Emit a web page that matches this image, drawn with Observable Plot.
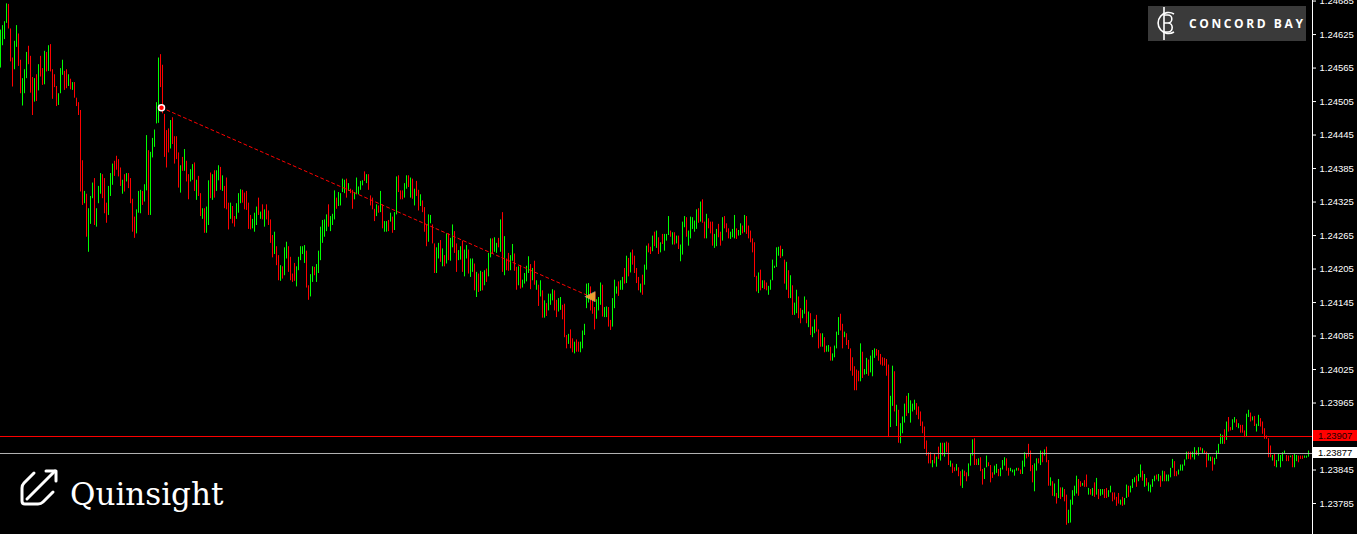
<!DOCTYPE html>
<html>
<head>
<meta charset="utf-8">
<script src="https://cdn.jsdelivr.net/npm/d3@7"></script>
<script src="https://cdn.jsdelivr.net/npm/@observablehq/plot@0.6"></script>
<style>
  html, body { margin: 0; padding: 0; background: #000; }
  #wrap { position: relative; width: 1357px; height: 534px; overflow: hidden; background: #000; }
  #wrap > svg { position: absolute; left: 0; top: 0; }
  .pricebox { position: absolute; left: 1313px; width: 44px; height: 11px; font: 9.5px "Liberation Sans", Arial, sans-serif; line-height: 11px; padding-left: 5px; box-sizing: border-box; }
  #logos { position: absolute; left: 0; top: 0; pointer-events: none; }
</style>
</head>
<body>
<div id="wrap"></div>
<script>
// ---- DATA (prices as points above 1.23000, 1 point = 0.00001) ----
const BASE = 1.23;
const PT = 0.00001;

const hiPts = [
  1633,1641,1648,1680,1679,1635,1583,1613,1641,1626,
  1579,1546,1562,1593,1604,1586,1548,1546,1553,1571,
  1586,1564,1595,1593,1605,1607,1562,1553,1532,1519,
  1564,1579,1559,1562,1553,1545,1539,1539,1511,1503,
  1489,1399,1344,1339,1313,1335,1359,1367,1313,1353,
  1376,1374,1367,1323,1353,1376,1393,1398,1407,1401,
  1386,1364,1374,1376,1376,1367,1330,1298,1311,1344,
  1346,1344,1356,1444,1417,1414,1439,1454,1503,1583,
  1589,1570,1482,1453,1456,1471,1476,1442,1442,1413,
  1390,1405,1419,1398,1374,1383,1392,1395,1364,1371,
  1340,1313,1313,1316,1363,1377,1374,1381,1381,1390,
  1387,1372,1353,1368,1323,1323,1317,1299,1322,1340,
  1347,1346,1341,1344,1323,1301,1294,1305,1316,1332,
  1307,
  1320,1311,1320,1309,1293,1265,1271,1245,1229,1211,
  1209,1243,1253,1245,1226,1196,1215,1209,1226,1245,
  1245,1247,1237,1175,1195,1209,1208,1213,1237,1280,
  1292,1293,1302,1320,1299,1303,1345,1332,1342,1340,
  1366,1364,1366,1358,1348,1346,1342,1368,1352,1362,
  1363,1379,1374,1374,1336,1332,1312,1320,1318,1344,
  1320,1290,1290,1292,1305,1298,1306,1370,1372,1345,
  1345,1358,1372,1372,1368,1366,1348,1362,1346,1338,
  1327,1315,1283,1302,1301,1284,1250,1243,1251,1256,
  1241,1229,1268,1268,1260,1284,1272,1250,1238,1245,
  1255,1239,1247,1239,1223,1223,1214,1199,1196,1201,
  1199,1202,1205,1233,1259,1259,1261,1251,1260,1293,
  1306,1263,1223,1233,1229,1249,1232,1208,1209,1211,
  1185,
  1197,1210,1227,1213,1206,1219,1184,1176,1184,1166,
  1148,1143,1160,1160,1168,1166,1149,1152,1154,1140,
  1142,1086,1088,1096,1080,1074,1078,1074,1074,1094,
  1106,1178,1179,1173,1154,1136,1150,1154,1180,1176,
  1136,1137,1136,1113,1152,1185,1173,1182,1184,1190,
  1206,1228,1224,1234,1239,1228,1206,1190,1178,1194,
  1212,1246,1250,1244,1264,1271,1273,1261,1252,1267,
  1267,1267,1299,1273,1270,1270,1264,1264,1248,1289,
  1299,1297,1273,1298,1297,1291,1311,1313,1325,1329,
  1289,1303,1295,1289,1289,1267,1276,1285,1271,1297,
  1299,1286,1277,1271,1276,1301,1277,1274,1286,1282,
  1301,1299,1282,1273,1259,1252,1192,1198,1203,1184,
  1184,1180,1174,1185,1221,1210,1243,1244,1246,1240,
  1221,
  1217,1202,1193,1175,1144,1167,1155,1134,1131,1155,
  1149,1128,1125,1101,1114,1122,1096,1089,1089,1082,
  1067,1068,1065,1053,1067,1092,1118,1124,1106,1092,
  1089,1077,1062,1046,1030,1024,1022,1071,1056,1025,
  1045,1042,1049,1059,1062,1061,1059,1052,1046,1045,
  1043,1033,977,1031,1021,961,952,928,940,963,
  977,982,969,963,970,964,958,949,931,922,
  897,876,876,862,874,868,886,893,893,893,
  895,893,861,856,849,855,849,842,845,843,
  840,856,874,899,901,864,865,867,846,848,
  870,858,853,840,852,855,846,848,862,867,
  865,848,848,845,845,848,848,845,861,876,
  874,891,879,853,856,865,865,879,877,881,
  886,
  862,831,824,820,803,828,813,813,810,800,
  773,791,808,816,834,828,824,821,826,836,
  812,810,812,822,830,810,810,810,810,812,
  808,816,804,804,796,803,791,796,794,818,
  816,816,828,831,834,837,854,843,837,830,
  822,818,828,834,836,837,834,843,842,836,
  836,848,864,860,842,845,854,854,863,877,
  877,877,877,885,879,885,885,883,879,877,
  873,868,868,866,879,891,909,907,917,931,
  939,921,935,939,935,928,925,925,915,945,
  952,947,940,941,927,943,937,931,919,906,
  901,888,871,873,862,873,871,876,879,871,
  870,870,871,873,871,870,870,870,870,870,
  879
];

const loPts = [
  1565,1605,1616,1645,1635,1576,1531,1562,1602,1568,
  1519,1497,1519,1546,1571,1520,1480,1504,1505,1524,
  1549,1534,1535,1558,1559,1558,1509,1530,1496,1498,
  1519,1552,1525,1528,1532,1526,1525,1511,1496,1480,
  1343,1319,1322,1262,1235,1285,1331,1283,1280,1322,
  1339,1331,1304,1287,1301,1335,1355,1371,1382,1370,
  1353,1339,1343,1361,1349,1322,1271,1260,1268,1305,
  1304,1319,1325,1345,1301,1301,1404,1423,1465,1466,
  1530,1483,1405,1386,1413,1420,1428,1393,1401,1350,
  1341,1380,1380,1361,1329,1361,1364,1344,1328,1335,
  1299,1294,1269,1269,1283,1331,1328,1332,1344,1363,
  1346,1344,1313,1311,1275,1294,1286,1280,1294,1305,
  1322,1323,1311,1310,1276,1275,1277,1271,1283,1301,
  1294,
  1293,1280,1293,1283,1251,1225,1231,1211,1184,1183,
  1187,1193,1223,1199,1184,1181,1183,1173,1202,1220,
  1231,1215,1171,1149,1155,1181,1193,1181,1197,1220,
  1251,1262,1272,1280,1272,1283,1293,1312,1317,1318,
  1342,1340,1332,1344,1340,1312,1329,1338,1338,1346,
  1354,1362,1358,1346,1318,1311,1290,1299,1305,1306,
  1277,1271,1271,1272,1289,1269,1274,1302,1342,1329,
  1329,1332,1348,1351,1332,1330,1318,1335,1309,1317,
  1306,1271,1245,1253,1286,1250,1197,1197,1223,1217,
  1209,1209,1214,1220,1219,1243,1233,1199,1220,1221,
  1199,1191,1223,1196,1190,1199,1166,1154,1163,1165,
  1166,1175,1181,1191,1225,1232,1235,1233,1243,1235,
  1199,1193,1202,1201,1202,1219,1201,1167,1175,1169,
  1171,
  1178,1182,1197,1168,1184,1176,1167,1138,1155,1117,
  1117,1120,1130,1140,1148,1130,1118,1128,1131,1114,
  1082,1062,1070,1062,1055,1053,1056,1056,1055,1062,
  1086,1134,1144,1130,1124,1096,1115,1130,1140,1119,
  1118,1118,1101,1095,1101,1134,1160,1156,1167,1167,
  1178,1179,1191,1198,1212,1197,1179,1166,1162,1158,
  1176,1203,1234,1231,1236,1245,1242,1231,1234,1249,
  1237,1255,1265,1262,1248,1248,1250,1240,1218,1230,
  1279,1262,1246,1259,1276,1271,1276,1287,1289,1287,
  1259,1259,1277,1268,1246,1242,1245,1261,1246,1255,
  1277,1270,1259,1258,1261,1259,1258,1264,1265,1268,
  1270,1267,1259,1252,1234,1190,1164,1161,1166,1170,
  1168,1166,1158,1167,1184,1206,1208,1228,1224,1227,
  1178,
  1167,1152,1152,1122,1122,1125,1116,1107,1116,1124,
  1107,1100,1086,1082,1089,1092,1062,1065,1065,1055,
  1056,1056,1040,1040,1046,1062,1086,1094,1062,1082,
  1068,1061,1022,1013,987,987,1003,1003,1009,1015,
  1016,1013,1019,1012,1045,1049,1040,1033,1031,1031,
  1013,903,921,959,949,923,893,892,910,929,
  941,946,929,949,952,943,935,923,910,882,
  870,856,856,849,856,850,864,861,870,868,
  876,853,850,839,842,843,833,816,812,833,
  824,833,852,870,853,853,853,842,818,828,
  849,851,822,830,836,839,833,833,845,852,
  843,834,842,840,834,843,843,837,837,850,
  865,868,842,822,806,843,856,853,858,870,
  858,
  816,816,798,797,784,794,792,796,788,746,
  749,750,782,798,802,798,814,816,814,814,
  800,800,798,796,800,792,798,800,794,794,
  796,804,788,791,780,784,782,780,782,794,
  796,804,812,822,814,824,831,825,814,816,
  806,804,814,824,827,824,814,824,824,824,
  824,831,848,833,833,836,843,843,852,863,
  864,863,867,863,871,870,879,873,874,849,
  861,860,843,854,864,873,891,891,891,898,
  913,915,916,929,921,919,911,911,903,904,
  939,931,933,923,913,923,922,909,900,900,
  867,867,861,851,849,860,849,860,873,860,
  860,867,849,849,860,858,864,864,866,866,
  868
];

// bar direction: G = up bar (green), R = down bar (red)
const dirGroups = [
  "GGGGRRRGGR","RGGGRRRGRG","RRGRGRRRRG","GGRRGRGRRR","RRGRGGGRGG",
  "GRRRGGGRRR","RGRGRRRRGG","GRGGRGGGGG","RRRRRGRRRR","GRGRRGGRGR",
  "RGRGGRGRGG","RGRRRGRRGG","GRRRRRGGGR","G",
  "RGRRRRGRRG","RGGRRRRGGG","GGRRGGRGGG","GGGRGGGRGG","GGRGRRGGGG",
  "GRGRRRRGRG","RGGRGRGGRR","RGGRGRGRRG","RRRGGRRGGR","GRGRGGRRGG",
  "RGGRGGRGRG","RGRGGRGGRG","RGRRGGRRGR","G",
  "GGGRGRGRGR","GRGGGRRGGR","RRGRRGRRGG","GGGRRRGGGR","GGRRGGGRGG",
  "RGRGRRRRGR","GGRRGRGRGR","GGGRGRGRGG","GRGGGGGRGR","RGRRRGGRRG",
  "RRRGGGRGGR","GRRRRRRGRG","RRGGGGGGRG","R",
  "GRGRGGRRGG","RGRGGRRRGR","GGRGGGGRRG","RRRRRRRGRG","GRGGGRRRRR",
  "RRGGRGRGGG","RGGGGRRRRR","RRRGRGRGRG","RRGRRGRRGR","RGGGRRGRRG",
  "GRRRGGRGGG","RRGGGGRRGG","RRRRGGRGRG","R",
  "RGRGRGRGRR","GGGGGRRGRR","GRGRGRGGRR","GGRRRRGRGG","RGGGRGGRGR",
  "GGGGRGRGRG","GGGRRGGGGG","RRGGRGRGRR","GGRGGGGGRG","RRGGRGRRRG",
  "GRGRGGRRRR","RRGRGGGGGR","RGRGGRRRGG","G"
];
const dirs = dirGroups.join("");

// trend line (start / end) in bar index and price points
const trendIdx = [80.5, 294];
const trendPts = [1494, 1157];

// horizontal levels
const levelRed = 1.23907;
const levelGray = 1.23877;

// axis tick labels
const tickValues = [1.24685,1.24625,1.24565,1.24505,1.24445,1.24385,1.24325,1.24265,
                    1.24205,1.24145,1.24085,1.24025,1.23965,1.23845,1.23785];

// ---- BUILD ----
const toPrice = p => +(BASE + p * PT).toFixed(5);
const bars = hiPts.map((h, i) => ({i, hi: toPrice(h), lo: toPrice(loPts[i]), dir: dirs[i] === "R" ? "down" : "up"}));
const trend = trendIdx.map((t, k) => ({i: t, p: toPrice(trendPts[k])}));

const yOpts = {domain: [1.237295, 1.24686], range: [534, 0]};
const yScale = Plot.scale({y: yOpts});
// snap a 1px horizontal level line onto a whole device pixel row (like the terminal draws it)
const snapDy = v => { const y = yScale.apply(v); return Math.floor(y) + 1.5 - (y + 0.5); };

const chart = Plot.plot({
  width: 1357,
  height: 534,
  marginLeft: 0,
  marginTop: 0,
  marginBottom: 0,
  marginRight: 45,
  style: {background: "#000", color: "#fff", fontFamily: "'Liberation Sans', Arial, sans-serif", fontSize: "9.5px"},
  x: {domain: [0, bars.length], range: [0, 1310], axis: null},
  y: {...yOpts, axis: "right", ticks: tickValues,
      tickFormat: d3.format(".5f"), tickSize: 3, tickPadding: 4, line: true, label: null},
  color: {type: "ordinal", domain: ["up", "down"], range: ["#00ff00", "#ff0000"]},
  marks: [
    Plot.ruleX(bars, {x: "i", y1: "lo", y2: "hi", stroke: "dir", strokeWidth: 1}),
    Plot.ruleY([levelGray], {stroke: "#b4b4b4", strokeWidth: 1, dy: snapDy(levelGray) + 1}),
    Plot.ruleY([levelRed], {stroke: "#ff0000", strokeWidth: 1, dy: snapDy(levelRed) + 1}),
    Plot.line(trend, {x: "i", y: "p", stroke: "#ff0000", strokeWidth: 1, strokeDasharray: "3,3"}),
    Plot.dot(trend.slice(0, 1), {x: "i", y: "p", r: 3, fill: "#ff0000", stroke: "#ffffff", strokeWidth: 1.5}),
    Plot.text(trend.slice(1), {x: "i", y: "p", text: () => "◀", fill: "#e8a030", stroke: "#ffffff", strokeWidth: 0.4, fontSize: 13, dx: 1})
  ]
});
const wrap = document.getElementById("wrap");
wrap.appendChild(chart);

// price label boxes on the axis for the two horizontal levels
const ys = chart.scale("y");
function priceBox(v, bg, fg) {
  const d = document.createElement("div");
  d.className = "pricebox";
  d.style.top = (Math.floor(ys.apply(v)) + 1 - 5) + "px";
  d.style.background = bg;
  d.style.color = fg;
  d.textContent = d3.format(".5f")(v);
  wrap.appendChild(d);
}
priceBox(levelRed, "#ff0000", "#1a0000");
priceBox(levelGray, "#ffffff", "#000000");

// logos
const ns = "http://www.w3.org/2000/svg";
const logos = document.createElementNS(ns, "svg");
logos.setAttribute("id", "logos");
logos.setAttribute("width", 1357);
logos.setAttribute("height", 534);
logos.innerHTML = `
  <rect x="1148" y="6" width="158" height="35" fill="#3a3a3a"/>
  <path d="M1174 14 A10.5 10.5 0 1 0 1174 32" fill="none" stroke="#fff" stroke-width="1.6"/>
  <line x1="1164" y1="7" x2="1164" y2="40" stroke="#fff" stroke-width="1.6"/>
  <path d="M1164 15 H1168 A3.8 4 0 0 1 1168 23 H1164 M1168 23 A4.2 4.5 0 0 1 1168 32 H1164" fill="none" stroke="#fff" stroke-width="1.6"/>
  <text x="1189" y="28" fill="#fff" font-family="'Open Sans', Lato, sans-serif" font-weight="700" font-size="12" letter-spacing="2.6">CONCORD BAY</text>
  <g fill="none" stroke="#fff" stroke-width="3" stroke-linejoin="round" stroke-linecap="round">
    <path d="M34 473 L24 483 Q22 485 22 488 L22 501 Q22 504 25 504 L38 504 Q41 504 43 502 L53 492"/>
    <path d="M27 499 L55 471"/>
    <path d="M46 471 L56 471 L56 481"/>
  </g>
  <text x="70" y="505" fill="#fff" font-family="'DejaVu Serif', serif" font-size="31">Quinsight</text>
`;
wrap.appendChild(logos);
</script>
</body>
</html>
